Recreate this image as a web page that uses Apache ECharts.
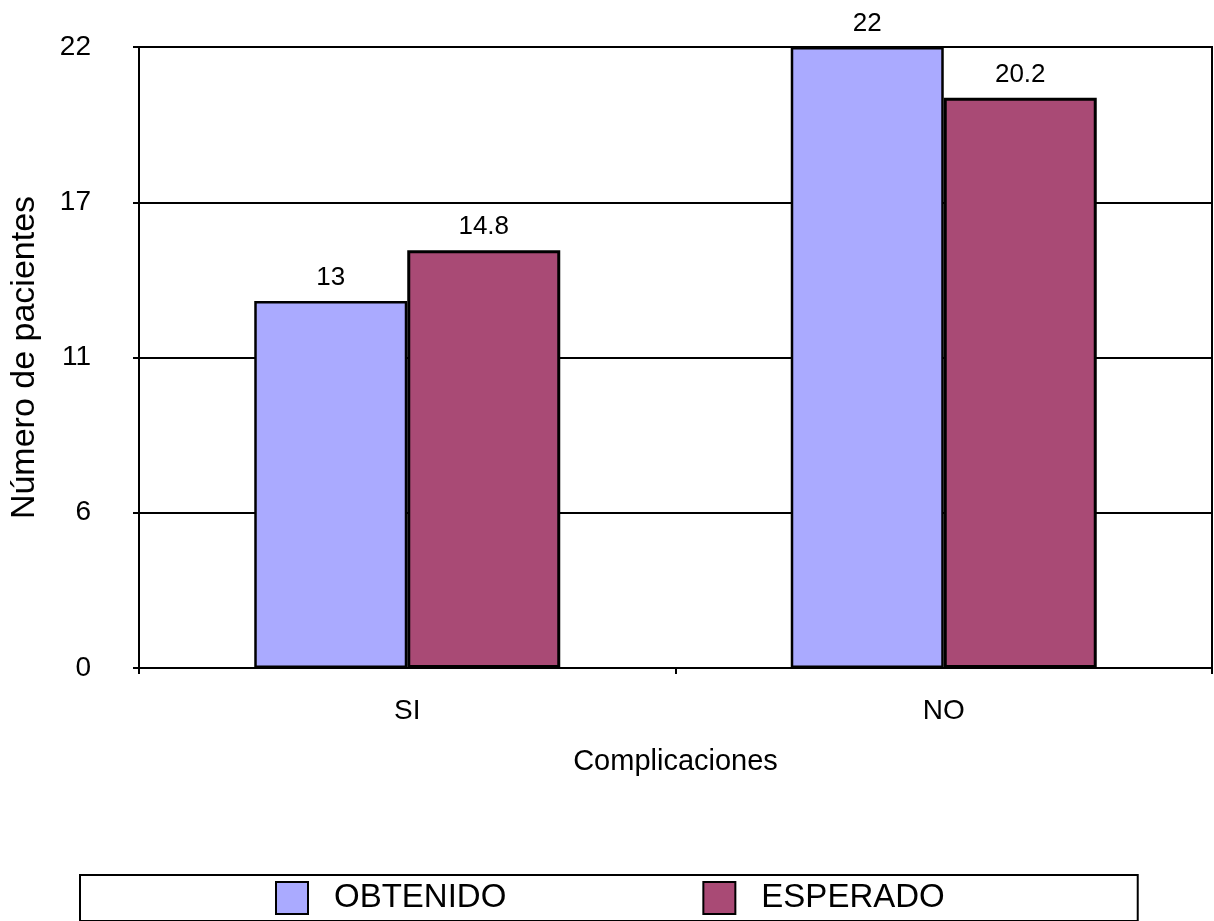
<!DOCTYPE html>
<html>
<head>
<meta charset="utf-8">
<script src="https://cdn.jsdelivr.net/npm/echarts@6/dist/echarts.min.js"></script>
<style>
  html, body { margin: 0; padding: 0; background: #fff; }
  #chart { width: 1214px; height: 921px; }
</style>
</head>
<body>
<div id="chart"></div>
<script>
// Patients with / without complications: observed vs expected counts
const categories = ['SI', 'NO'];
const obtenido = [13, 22];
const esperado = [14.8, 20.2];
const seriesNames = ['OBTENIDO', 'ESPERADO'];
const yMin = 0, yMax = 22, yStep = 5.5;

const FONT = "'Liberation Sans', Arial, Helvetica, sans-serif";
const chart = echarts.init(document.getElementById('chart'), null, { renderer: 'canvas' });

const barLabel = {
  show: true,
  position: 'top',
  distance: 10,
  color: '#000',
  fontFamily: FONT,
  fontSize: 26
};

chart.setOption({
  animation: false,
  backgroundColor: '#fff',
  textStyle: { fontFamily: FONT, color: '#000' },
  grid: {
    left: 137, right: 2, top: 47, bottom: 253,
    show: true, borderColor: '#000', borderWidth: 2, backgroundColor: 'transparent'
  },
  legend: {
    data: seriesNames,
    left: 80, top: 875,
    orient: 'horizontal',
    padding: [6, 193, 6, 195],
    borderColor: '#000', borderWidth: 2,
    itemWidth: 32, itemHeight: 32, itemGap: 196,
    icon: 'rect',
    textStyle: { fontFamily: FONT, fontSize: 33, color: '#000', padding: [0, 0, 0, 21] }
  },
  xAxis: {
    type: 'category',
    data: categories,
    name: 'Complicaciones',
    nameLocation: 'middle',
    nameGap: 79,
    nameTextStyle: { fontFamily: FONT, fontSize: 29, color: '#000' },
    axisLine: { lineStyle: { color: '#000', width: 2 } },
    axisTick: { show: true, length: 6, lineStyle: { color: '#000', width: 2 } },
    axisLabel: { fontFamily: FONT, fontSize: 28, color: '#000', margin: 29 }
  },
  yAxis: {
    type: 'value',
    min: yMin, max: yMax, interval: yStep,
    name: 'Número de pacientes',
    nameLocation: 'middle',
    nameGap: 97,
    nameTextStyle: { fontFamily: FONT, fontSize: 34, color: '#000' },
    axisLine: { show: true, lineStyle: { color: '#000', width: 2 } },
    axisTick: { show: true, length: 6, lineStyle: { color: '#000', width: 2 } },
    axisLabel: {
      fontFamily: FONT, fontSize: 28, color: '#000', margin: 48,
      formatter: v => String(Math.round(v))
    },
    splitLine: { show: true, lineStyle: { color: '#000', width: 2 } }
  },
  series: [
    {
      name: seriesNames[0],
      type: 'bar',
      data: obtenido,
      barWidth: 153,
      barGap: '0%',
      itemStyle: { color: '#AAAAFF', borderColor: '#000', borderWidth: 2.5 },
      label: barLabel
    },
    {
      name: seriesNames[1],
      type: 'bar',
      data: esperado,
      barWidth: 153,
      itemStyle: { color: '#A94A75', borderColor: '#000', borderWidth: 3 },
      label: barLabel
    }
  ]
});
</script>
</body>
</html>
